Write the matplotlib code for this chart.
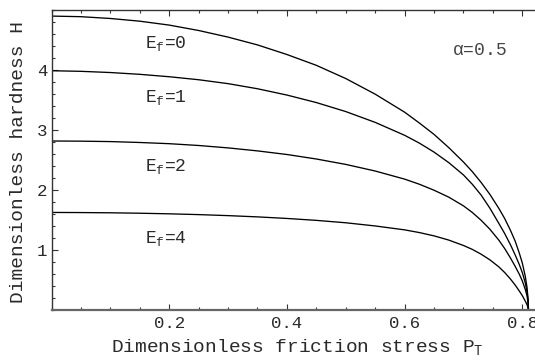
import matplotlib
matplotlib.use("Agg")
import matplotlib.pyplot as plt
from matplotlib.ticker import MultipleLocator, FixedLocator

plt.rcParams["mathtext.fontset"] = "custom"
plt.rcParams["mathtext.rm"] = "Liberation Mono"
plt.rcParams["mathtext.it"] = "DejaVu Serif:italic"
plt.rcParams["mathtext.default"] = "regular"

MONO = "Liberation Mono"
TEXT_COLOR = "#2a2a2a"

# friction stress samples and hardness curves for each E_f
p_t = [0.0, 0.05, 0.1, 0.15, 0.2, 0.25, 0.3, 0.35, 0.4, 0.45,
       0.5, 0.55, 0.6, 0.625, 0.65, 0.675, 0.7, 0.715, 0.73, 0.745,
       0.76, 0.77, 0.78, 0.788, 0.795, 0.8, 0.805, 0.808, 0.81, 0.8105]
h_ef0 = [4.90, 4.89, 4.86, 4.815, 4.75, 4.66, 4.55, 4.42, 4.26, 4.08,
         3.86, 3.60, 3.30, 3.12, 2.93, 2.71, 2.47, 2.31, 2.13, 1.93,
         1.70, 1.53, 1.33, 1.15, 0.95, 0.79, 0.57, 0.385, 0.17, 0.0]
h_ef1 = [3.99, 3.98, 3.96, 3.93, 3.89, 3.84, 3.775, 3.69, 3.585, 3.46,
         3.31, 3.13, 2.915, 2.785, 2.635, 2.46, 2.255, 2.10, 1.92, 1.70,
         1.45, 1.28, 1.09, 0.92, 0.76, 0.63, 0.46, 0.31, 0.14, 0.0]
h_ef2 = [2.82, 2.817, 2.81, 2.795, 2.775, 2.745, 2.705, 2.655, 2.595, 2.52,
         2.43, 2.32, 2.185, 2.10, 2.00, 1.885, 1.74, 1.63, 1.50, 1.35,
         1.17, 1.03, 0.87, 0.73, 0.60, 0.49, 0.35, 0.245, 0.11, 0.0]
h_ef4 = [1.63, 1.628, 1.624, 1.617, 1.607, 1.594, 1.577, 1.556, 1.53, 1.498,
         1.458, 1.405, 1.34, 1.295, 1.24, 1.17, 1.08, 1.015, 0.935, 0.84,
         0.725, 0.63, 0.52, 0.42, 0.32, 0.245, 0.155, 0.095, 0.035, 0.0]

curve_labels = ["E$_\\mathrm{f}$=0", "E$_\\mathrm{f}$=1",
                "E$_\\mathrm{f}$=2", "E$_\\mathrm{f}$=4"]
label_x = [0.159, 0.159, 0.159, 0.159]
label_y = [4.44, 3.54, 2.39, 1.19]

x_ticks = [0.2, 0.4, 0.6, 0.8]
x_ticklabels = ["0.2", "0.4", "0.6", "0.8"]
y_ticks = [1, 2, 3, 4]
y_ticklabels = ["1", "2", "3", "4"]

fig = plt.figure(figsize=(5.35, 3.6), dpi=100)
ax = fig.add_axes([0.0963, 0.138, 0.9037, 0.834])

for h in (h_ef0, h_ef1, h_ef2, h_ef4):
    ax.plot(p_t, h, color="black", lw=0.95, solid_joinstyle="round")

ax.set_xlim(0, 0.8216)
ax.set_ylim(0, 5.0)

ax.xaxis.set_major_locator(FixedLocator(x_ticks))
ax.xaxis.set_minor_locator(MultipleLocator(0.05))
ax.yaxis.set_major_locator(FixedLocator(y_ticks))
ax.yaxis.set_minor_locator(MultipleLocator(0.2))
ax.set_xticklabels(x_ticklabels, family=MONO, fontsize=12.5, color=TEXT_COLOR)
ax.set_yticklabels(y_ticklabels, family=MONO, fontsize=12.5, color=TEXT_COLOR)

ax.tick_params(which="both", direction="in", top=True, right=False,
               color="#333333", width=0.8)
ax.tick_params(which="major", length=4.0)
ax.tick_params(which="minor", length=2.2)
ax.tick_params(axis="x", which="major", pad=4)
ax.tick_params(axis="y", which="major", pad=3)

ax.spines["right"].set_visible(False)
for side in ("left", "top", "bottom"):
    ax.spines[side].set_color("#333333")
    ax.spines[side].set_linewidth(1.0)
ax.spines["bottom"].set_color("#666666")
ax.spines["bottom"].set_linewidth(1.6)

ax.set_xlabel("Dimensionless friction stress P$_\\mathrm{T}$", family=MONO,
              fontsize=14, color=TEXT_COLOR, ha="center", va="center")
ax.xaxis.set_label_coords(0.508, -0.122)
ax.set_ylabel("Dimensionless hardness H", family=MONO, fontsize=14,
              color=TEXT_COLOR, ha="center", va="center")
ax.yaxis.set_label_coords(-0.068, 0.4955)

for txt, lx, ly in zip(curve_labels, label_x, label_y):
    ax.text(lx, ly, txt, family=MONO, fontsize=13, color=TEXT_COLOR,
            ha="left", va="center")

ax.text(0.680, 4.32, "$\\alpha$=0.5", family=MONO, fontsize=13,
        color="#444444", ha="left", va="center")

fig.savefig("out.png", dpi=100)
